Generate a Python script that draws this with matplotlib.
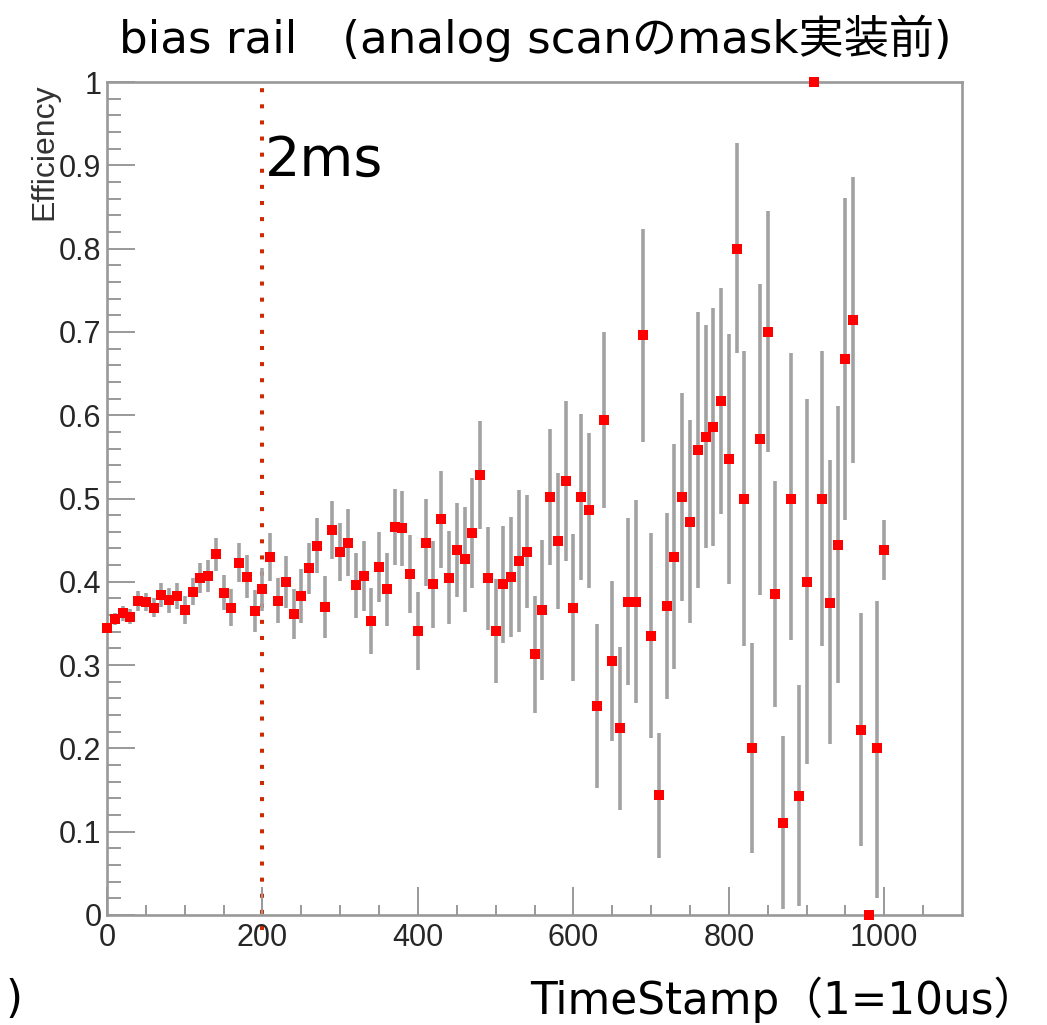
import matplotlib
matplotlib.use("Agg")
import matplotlib.pyplot as plt
import numpy as np

# ---------------- data ----------------
timestamp = list(range(0, 1001, 10))

efficiency = [
    0.345, 0.355, 0.362, 0.358, 0.377, 0.376, 0.369, 0.384, 0.378, 0.383,   # 0-90
    0.366, 0.388, 0.404, 0.407, 0.433, 0.387, 0.369, 0.423, 0.406, 0.365,   # 100-190
    0.391, 0.430, 0.377, 0.400, 0.361, 0.383, 0.416, 0.443, 0.370, 0.462,   # 200-290
    0.436, 0.447, 0.396, 0.407, 0.353, 0.418, 0.391, 0.466, 0.464, 0.409,   # 300-390
    0.341, 0.447, 0.397, 0.475, 0.405, 0.438, 0.427, 0.459, 0.528, 0.404,   # 400-490
    0.341, 0.397, 0.406, 0.425, 0.436, 0.313, 0.366, 0.502, 0.449, 0.521,   # 500-590
    0.369, 0.502, 0.486, 0.251, 0.594, 0.305, 0.224, 0.376, 0.376, 0.696,   # 600-690
    0.335, 0.144, 0.371, 0.430, 0.502, 0.472, 0.558, 0.574, 0.586, 0.617,   # 700-790
    0.547, 0.800, 0.500, 0.200, 0.571, 0.700, 0.385, 0.111, 0.500, 0.143,   # 800-890
    0.400, 1.000, 0.500, 0.375, 0.444, 0.667, 0.714, 0.222, 0.000, 0.200,   # 900-990
    0.438,                                                                  # 1000
]

err_low = [
    0.006, 0.007, 0.009, 0.009, 0.012, 0.011, 0.011, 0.014, 0.015, 0.016,
    0.017, 0.016, 0.018, 0.019, 0.020, 0.021, 0.022, 0.023, 0.026, 0.025,
    0.026, 0.029, 0.027, 0.031, 0.030, 0.032, 0.031, 0.033, 0.037, 0.035,
    0.035, 0.040, 0.039, 0.042, 0.040, 0.042, 0.044, 0.046, 0.045, 0.047,
    0.047, 0.052, 0.052, 0.058, 0.056, 0.056, 0.063, 0.066, 0.065, 0.062,
    0.062, 0.070, 0.072, 0.085, 0.068, 0.070, 0.084, 0.082, 0.082, 0.096,
    0.088, 0.100, 0.093, 0.098, 0.106, 0.096, 0.098, 0.100, 0.122, 0.128,
    0.123, 0.075, 0.112, 0.135, 0.125, 0.122, 0.166, 0.134, 0.143, 0.136,
    0.150, 0.125, 0.177, 0.126, 0.187, 0.144, 0.135, 0.104, 0.170, 0.132,
    0.219, 0.000, 0.177, 0.170, 0.166, 0.193, 0.171, 0.139, 0.000, 0.180,
    0.036,
]

err_high = [
    0.006, 0.007, 0.009, 0.009, 0.012, 0.011, 0.011, 0.014, 0.015, 0.016,
    0.017, 0.016, 0.018, 0.019, 0.020, 0.021, 0.022, 0.023, 0.026, 0.025,
    0.026, 0.029, 0.027, 0.031, 0.030, 0.032, 0.031, 0.033, 0.037, 0.035,
    0.035, 0.040, 0.039, 0.042, 0.040, 0.042, 0.044, 0.046, 0.045, 0.047,
    0.047, 0.052, 0.052, 0.058, 0.056, 0.056, 0.063, 0.066, 0.065, 0.062,
    0.062, 0.070, 0.072, 0.085, 0.068, 0.070, 0.084, 0.082, 0.082, 0.096,
    0.088, 0.100, 0.093, 0.098, 0.106, 0.096, 0.098, 0.100, 0.122, 0.128,
    0.123, 0.075, 0.112, 0.135, 0.125, 0.122, 0.166, 0.134, 0.143, 0.136,
    0.150, 0.127, 0.177, 0.127, 0.187, 0.145, 0.136, 0.104, 0.175, 0.133,
    0.219, 0.000, 0.177, 0.171, 0.167, 0.194, 0.172, 0.140, 0.000, 0.177,
    0.036,
]

x_ticks = [0, 200, 400, 600, 800, 1000]
x_tick_labels = ["0", "200", "400", "600", "800", "1000"]
y_ticks = [0.0, 0.1, 0.2, 0.3, 0.4, 0.5, 0.6, 0.7, 0.8, 0.9, 1.0]
y_tick_labels = ["0", "0.1", "0.2", "0.3", "0.4", "0.5", "0.6", "0.7", "0.8", "0.9", "1"]

marker_x = 200
title_text = "bias rail\u3000(analog scanのmask実装前)"
xlabel_text = "TimeStamp（1=10us）"
annot_text = "2ms"

# ---------------- figure ----------------
W, H = 1047, 1025
fig = plt.figure(figsize=(W / 100, H / 100), dpi=100)
fig.patch.set_facecolor("white")

ax = fig.add_axes([107 / W, (H - 915) / H, 855 / W, 833 / H])
ax.set_xlim(0, 1100)
ax.set_ylim(0, 1)

frame_col = "#999999"
for s in ax.spines.values():
    s.set_color(frame_col)
    s.set_linewidth(1.9)

ax.set_xticks(x_ticks)
ax.set_xticklabels(x_tick_labels)
ax.set_xticks(np.arange(0, 1100, 50), minor=True)
ax.set_yticks(y_ticks)
ax.set_yticklabels(y_tick_labels)
ax.set_yticks(np.arange(0, 1.0001, 0.02), minor=True)

tick_font = "Liberation Sans"
ax.tick_params(axis="both", which="both", direction="in", colors=frame_col,
               labelcolor="#262626", top=False, right=False)
ax.tick_params(axis="x", which="major", length=20, width=1.4, labelsize=22, pad=6)
ax.tick_params(axis="x", which="minor", length=7, width=1.4)
ax.tick_params(axis="y", which="major", length=20, width=1.4, labelsize=22, pad=4)
ax.tick_params(axis="y", which="minor", length=10, width=1.4)
for lab in ax.get_xticklabels() + ax.get_yticklabels():
    lab.set_fontfamily(tick_font)

# dotted 2ms marker line
ax.plot([marker_x, marker_x], [-0.018, 1.0], color="#cc2a00", linewidth=2.9,
        linestyle=(0, (1, 3)), clip_on=False, zorder=1)

# efficiency points with error bars
line, caps, bars = ax.errorbar(timestamp, efficiency, yerr=[err_low, err_high],
                               fmt="s", color="#ff0000", markersize=7.6,
                               markeredgewidth=0, ecolor="#a2a2a2",
                               elinewidth=2.6, capsize=2.5, capthick=1.2,
                               zorder=3, clip_on=False)
for c in caps:
    c.set_color("#555555")

ax.text(marker_x + 3, 0.906, annot_text, fontsize=40, color="black",
        family=["DejaVu Sans", "Noto Sans CJK JP"], ha="left", va="center")

# y label (ROOT style, top aligned)
fig.text(44 / W, 1 - 83 / H, "Efficiency", rotation=90, ha="center", va="top",
         fontsize=23, color="#333333", family=tick_font)

# title
fig.text(535 / W, 1 - 38 / H, title_text, ha="center", va="center",
         fontsize=32.5, color="black", family=["DejaVu Sans", "Noto Sans CJK JP"])

# bottom texts
fig.text(530 / W, 1 - 1000 / H, xlabel_text, ha="left", va="center",
         fontsize=31.5, color="black", family=["DejaVu Sans", "Noto Sans CJK JP"])
fig.text(6 / W, 1 - 1000 / H, ")", ha="left", va="center",
         fontsize=31.5, color="black", family=["DejaVu Sans", "Noto Sans CJK JP"])

fig.savefig("out.png", dpi=100, facecolor="white")
